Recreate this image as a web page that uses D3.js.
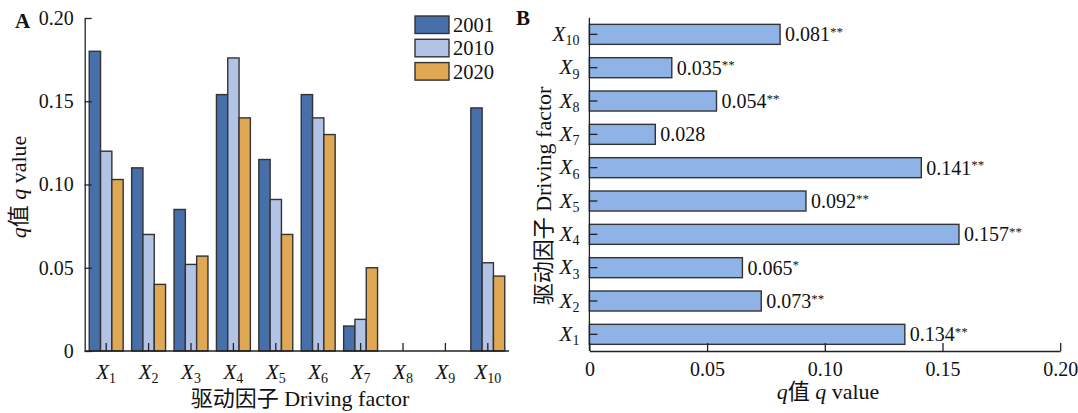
<!DOCTYPE html>
<html lang="zh">
<head>
<meta charset="utf-8">
<title>q value charts</title>
<script src="https://d3js.org/d3.v7.min.js"></script>
<style>
  body { margin: 0; background: #fff; }
  svg text { font-family: "Liberation Serif", "Noto Sans CJK SC", serif; fill: #111; }
  .axis path, .axis line { stroke: #222; stroke-width: 1.3; }
  .axis text { font-size: 20px; }
</style>
</head>
<body>
<div id="chart"></div>
<script>
// ---- dados ----
var factors = ["X1","X2","X3","X4","X5","X6","X7","X8","X9","X10"];
var years = ["2001","2010","2020"];
var q2001 = [0.18, 0.11, 0.085, 0.154, 0.115, 0.154, 0.015, 0, 0, 0.146];
var q2010 = [0.12, 0.07, 0.052, 0.176, 0.091, 0.14, 0.019, 0, 0, 0.053];
var q2020 = [0.103, 0.04, 0.057, 0.14, 0.07, 0.13, 0.05, 0, 0, 0.045];
var qTotal = [0.134, 0.073, 0.065, 0.157, 0.092, 0.141, 0.028, 0.054, 0.035, 0.081];
var sig = ["**", "**", "*", "**", "**", "**", "", "**", "**", "**"];
var qTicks = [0, 0.05, 0.10, 0.15, 0.20];
var tickLabels = ["0", "0.05", "0.10", "0.15", "0.20"];

var W = 1078, H = 413;
var svg = d3.select("#chart").append("svg").attr("width", W).attr("height", H);

var cores = {"2001": "#4770aa", "2010": "#b2c3e5", "2020": "#e0a852"};
var series = {"2001": q2001, "2010": q2010, "2020": q2020};

// escreve X com subscrito
function labelX(sel, name) {
  sel.text(null).style("font-size", "21px");
  sel.append("tspan").style("font-style", "italic").text("X");
  sel.append("tspan").attr("dy", "0.3em").style("font-size", "14px").text(name.slice(1));
}
// q值 q value
function qTitle(t) {
  t.append("tspan").style("font-style", "italic").text("q");
  t.append("tspan").text("值 ");
  t.append("tspan").style("font-style", "italic").text("q");
  t.append("tspan").text(" value");
}

// ===== painel A =====
var xA = d3.scaleBand().domain(factors).range([85, 509]).paddingInner(0.2).paddingOuter(0.1);
var xInner = d3.scaleBand().domain(years).range([0, xA.bandwidth()]);
var yA = d3.scaleLinear().domain([0, 0.2]).range([351, 18]);

var gA = svg.append("g");
years.forEach(function(yr) {
  gA.selectAll(".b" + yr)
    .data(factors.map(function(f, i) { return {f: f, v: series[yr][i]}; }).filter(function(d) { return d.v > 0; }))
    .enter().append("rect")
      .attr("x", function(d) { return xA(d.f) + xInner(yr); })
      .attr("y", function(d) { return yA(d.v); })
      .attr("width", xInner.bandwidth())
      .attr("height", function(d) { return yA(0) - yA(d.v); })
      .attr("fill", cores[yr])
      .attr("stroke", "#333")
      .attr("stroke-width", 1.4);
});

gA.append("g").attr("class", "axis").attr("transform", "translate(84.7,0)")
  .call(d3.axisLeft(yA).tickValues(qTicks).tickSizeInner(-7).tickSizeOuter(0).tickPadding(11)
    .tickFormat(function(d, i) { return tickLabels[i]; }));
var axXA = gA.append("g").attr("class", "axis").attr("transform", "translate(0,351)")
  .call(d3.axisBottom(xA).tickSizeInner(-8).tickSizeOuter(0).tickPadding(13));
axXA.select(".domain").attr("d", "M84.7,0H509");
axXA.selectAll(".tick text").each(function(d) { labelX(d3.select(this), d); });

gA.append("text").attr("x", 15).attr("y", 28).style("font-weight", "bold").style("font-size", "21px").text("A");
gA.append("text").attr("transform", "translate(26,187) rotate(-90)").attr("text-anchor", "middle")
  .style("font-size", "22px").call(qTitle);
gA.append("text").attr("x", 300).attr("y", 406).attr("text-anchor", "middle").style("font-size", "22px")
  .text("驱动因子 Driving factor");

// legenda
var leg = gA.selectAll(".leg").data(years).enter().append("g")
  .attr("transform", function(d, i) { return "translate(415," + (16 + i * 23.3) + ")"; });
leg.append("rect").attr("width", 34).attr("height", 17.5)
  .attr("fill", function(d) { return cores[d]; }).attr("stroke", "#333").attr("stroke-width", 1.4);
leg.append("text").attr("x", 38).attr("y", 16).style("font-size", "20.5px").text(function(d) { return d; });

// ===== painel B =====
var xB = d3.scaleLinear().domain([0, 0.2]).range([589.4, 1060.2]);
var yB = d3.scaleBand().domain(factors).range([351, 17.7]).paddingInner(0.4).paddingOuter(0.2);

var gB = svg.append("g");
var dadosB = factors.map(function(f, i) { return {f: f, v: qTotal[i], s: sig[i]}; });
gB.selectAll(".barB").data(dadosB).enter().append("rect")
  .attr("x", xB(0))
  .attr("y", function(d) { return yB(d.f); })
  .attr("width", function(d) { return xB(d.v) - xB(0); })
  .attr("height", yB.bandwidth())
  .attr("fill", "#8fb3e6")
  .attr("stroke", "#333")
  .attr("stroke-width", 1.4);

var rotulos = gB.selectAll(".lab").data(dadosB).enter().append("text")
  .attr("x", function(d) { return xB(d.v) + 5; })
  .attr("y", function(d) { return yB(d.f) + yB.bandwidth() / 2 + 7; })
  .style("font-size", "20px");
rotulos.append("tspan").text(function(d) { return d.v.toFixed(3); });
rotulos.append("tspan").attr("dy", "-0.4em").style("font-size", "13px").text(function(d) { return d.s; });

gB.append("g").attr("class", "axis").attr("transform", "translate(0,351)")
  .call(d3.axisBottom(xB).tickValues(qTicks).tickSizeInner(-8).tickSizeOuter(0).tickPadding(11)
    .tickFormat(function(d, i) { return tickLabels[i]; }));
var axYB = gB.append("g").attr("class", "axis").attr("transform", "translate(589.4,0)")
  .call(d3.axisLeft(yB).tickSizeInner(-8).tickSizeOuter(0).tickPadding(10));
axYB.select(".domain").attr("d", "M0,17.7V351");
axYB.selectAll(".tick text").each(function(d) { labelX(d3.select(this), d); });

gB.append("text").attr("x", 516).attr("y", 25).style("font-weight", "bold").style("font-size", "21px").text("B");
gB.append("text").attr("x", 828).attr("y", 399).attr("text-anchor", "middle").style("font-size", "22px")
  .call(qTitle);
gB.append("text").attr("transform", "translate(551,196) rotate(-90)").attr("text-anchor", "middle")
  .style("font-size", "22px").text("驱动因子 Driving factor");
</script>
</body>
</html>
